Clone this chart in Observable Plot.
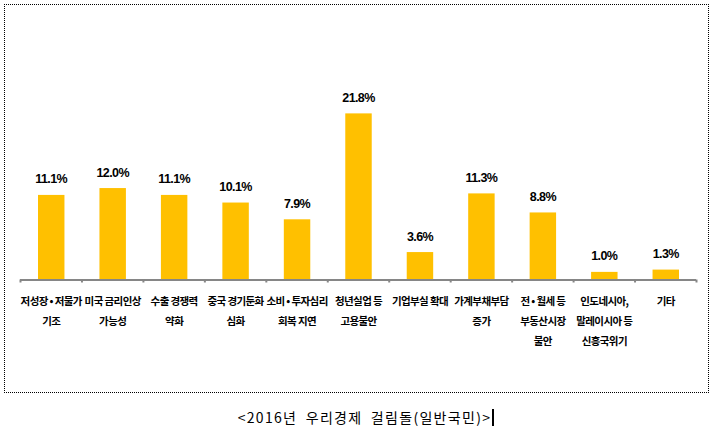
<!DOCTYPE html>
<html><head><meta charset="utf-8">
<script src="https://cdn.jsdelivr.net/npm/d3@7"></script>
<script src="https://cdn.jsdelivr.net/npm/@observablehq/plot@0.6"></script>
<style>
body{margin:0;background:#fff;}
#wrap{position:relative;width:714px;height:435px;overflow:hidden;}
#frame{position:absolute;left:4px;top:4px;width:703px;height:387px;border:1px dotted #000;}
#chart{position:absolute;left:0;top:0;}
#title{position:absolute;top:408px;left:0;width:732px;text-align:center;font:14px "Noto Sans CJK KR",sans-serif;letter-spacing:1.3px;word-spacing:4px;color:#000;line-height:18px;}
#cursor{display:inline-block;width:2px;height:17px;background:#000;vertical-align:-3px;margin-left:1px;}
.cat text{letter-spacing:-0.6px;}
.val text{letter-spacing:-0.6px;}
</style></head>
<body>
<div id="wrap">
<div id="frame"></div>
<div id="chart"></div>
<div id="title">&lt;2016년 우리경제 걸림돌(일반국민)&gt;<span id="cursor"></span></div>
</div>
<script>
const categories = ["저성장 • 저물가\n기조", "미국 금리인상\n가능성", "수출 경쟁력\n약화", "중국 경기둔화\n심화", "소비 • 투자심리\n회복 지연", "청년실업 등\n고용불안", "기업부실 확대", "가계부채부담\n증가", "전 • 월세 등\n부동산시장\n불안", "인도네시아,\n말레이시아 등\n신흥국위기", "기타"];
const values = [11.1, 12.0, 11.1, 10.1, 7.9, 21.8, 3.6, 11.3, 8.8, 1.0, 1.3];
const valueLabels = ["11.1%", "12.0%", "11.1%", "10.1%", "7.9%", "21.8%", "3.6%", "11.3%", "8.8%", "1.0%", "1.3%"];

const data = categories.map((c, i) => ({c, i, v: values[i], label: valueLabels[i]}));
const boundaries = d3.range(categories.length + 1);

const chart = Plot.plot({
  width: 714,
  height: 400,
  marginLeft: 20,
  marginRight: 18,
  marginTop: 89,
  marginBottom: 120.5,
  x: {domain: [0, categories.length], axis: null},
  y: {domain: [0, 25], axis: null},
  marks: [
    Plot.rect(data, {x1: d => d.i, x2: d => d.i + 1, y1: 0, y2: d => d.v, fill: "#FFC000", insetLeft: 18, insetRight: 17}),
    Plot.ruleY([0], {stroke: "#868686", strokeWidth: 2}),
    Plot.axisX({ticks: boundaries, tickSize: 3, tickFormat: () => "", stroke: "#868686", strokeWidth: 2}),
    Plot.text(data, {x: d => d.i + 0.5, y: d => d.v, text: "label", dy: -16, fill: "#000", fontSize: 12.5, fontWeight: "bold", fontFamily: "'Liberation Sans', sans-serif", className: "val"}),
    Plot.text(data, {x: d => d.i + 0.5, y: 0, text: "c", dy: 10, lineAnchor: "top", lineHeight: 1.95, fill: "#000", fontSize: 10.5, fontWeight: 600, fontFamily: "'Noto Sans CJK KR', sans-serif", className: "cat"})
  ]
});
document.getElementById("chart").appendChild(chart);
</script>
</body></html>
